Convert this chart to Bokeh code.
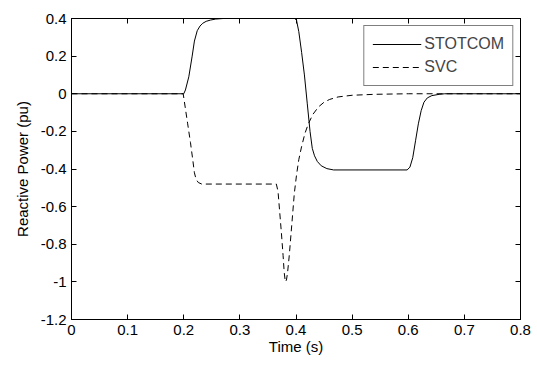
from bokeh.plotting import figure
from bokeh.models import LinearAxis, FixedTicker, Range1d, Legend, LegendItem
from bokeh.embed import file_html
from bokeh.resources import INLINE

# STATCOM reactive power (pu) vs time (s)
t_statcom = [0, 0.2, 0.203, 0.209, 0.215, 0.219, 0.224, 0.229, 0.234, 0.24, 0.248, 0.257, 0.27,
             0.398, 0.401, 0.405, 0.41, 0.415, 0.42, 0.425, 0.429, 0.433, 0.438, 0.445, 0.455, 0.467,
             0.598, 0.603, 0.608, 0.613, 0.618, 0.623, 0.628, 0.634, 0.642, 0.655, 0.665, 0.8]
q_statcom = [0, 0, 0.02, 0.09, 0.2, 0.28, 0.335, 0.36, 0.375, 0.385, 0.392, 0.397, 0.4,
             0.4, 0.39, 0.33, 0.22, 0.1, -0.05, -0.2, -0.29, -0.33, -0.36, -0.383, -0.398, -0.405,
             -0.405, -0.39, -0.34, -0.25, -0.16, -0.09, -0.045, -0.022, -0.01, -0.003, 0, 0]

# SVC reactive power (pu) vs time (s)
t_svc = [0, 0.199, 0.203, 0.207, 0.212, 0.216, 0.219, 0.222, 0.226, 0.232,
         0.365, 0.368, 0.371, 0.374, 0.377, 0.379, 0.381, 0.383, 0.385, 0.388, 0.391, 0.394,
         0.397, 0.401, 0.405, 0.41, 0.416, 0.422, 0.43, 0.44, 0.45, 0.46, 0.475, 0.5, 0.54, 0.6, 0.8]
q_svc = [0, 0, -0.08, -0.16, -0.26, -0.35, -0.42, -0.455, -0.472, -0.48,
         -0.48, -0.52, -0.63, -0.74, -0.86, -0.95, -1.0, -0.99, -0.95, -0.86, -0.75, -0.64,
         -0.53, -0.43, -0.35, -0.28, -0.21, -0.16, -0.11, -0.07, -0.045, -0.03, -0.017, -0.008, -0.003, 0, 0]

x_ticks = [0, 0.1, 0.2, 0.3, 0.4, 0.5, 0.6, 0.7, 0.8]
x_tick_labels = ["0", "0.1", "0.2", "0.3", "0.4", "0.5", "0.6", "0.7", "0.8"]
y_ticks = [-1.2, -1.0, -0.8, -0.6, -0.4, -0.2, 0, 0.2, 0.4]
y_tick_labels = ["-1.2", "-1", "-0.8", "-0.6", "-0.4", "-0.2", "0", "0.2", "0.4"]

FONT = "Liberation Sans"

p = figure(width=537, height=367, output_backend="svg", toolbar_location=None,
           x_range=Range1d(0, 0.8), y_range=Range1d(-1.2, 0.4),
           min_border_left=71, min_border_right=17, min_border_top=18, min_border_bottom=48)
p.xgrid.visible = False
p.ygrid.visible = False
p.outline_line_color = "black"
p.outline_line_width = 1
p.background_fill_color = "white"
p.border_fill_color = "white"

def style_axis(ax, ticks, labels, show_labels):
    ax.ticker = FixedTicker(ticks=ticks)
    ax.major_label_overrides = {t: l for t, l in zip(ticks, labels)}
    ax.major_tick_in = 5
    ax.major_tick_out = 0
    ax.minor_tick_in = 0
    ax.minor_tick_out = 0
    ax.axis_line_color = "black"
    ax.major_tick_line_color = "black"
    ax.major_label_text_font = FONT
    ax.major_label_text_font_size = "15px"
    ax.major_label_text_color = "black"
    ax.major_label_standoff = 5
    if not show_labels:
        ax.major_label_text_font_size = "0px"
        ax.major_label_text_alpha = 0

style_axis(p.xaxis[0], x_ticks, x_tick_labels, True)
style_axis(p.yaxis[0], y_ticks, y_tick_labels, True)
p.xaxis[0].axis_label = "Time (s)"
p.yaxis[0].axis_label = "Reactive Power (pu)"
for ax in (p.xaxis[0], p.yaxis[0]):
    ax.axis_label_text_font = FONT
    ax.axis_label_text_font_size = "15px"
    ax.axis_label_text_font_style = "normal"
    ax.axis_label_text_color = "black"
p.xaxis[0].axis_label_standoff = 0
p.yaxis[0].axis_label_standoff = 7

top = LinearAxis()
right = LinearAxis()
style_axis(top, x_ticks, x_tick_labels, False)
style_axis(right, y_ticks, y_tick_labels, False)
p.add_layout(top, "above")
p.add_layout(right, "right")

r1 = p.line(t_statcom, q_statcom, line_color="black", line_width=1)
r2 = p.line(t_svc, q_svc, line_color="black", line_width=1, line_dash="6 4")

legend = Legend(items=[LegendItem(label="STOTCOM", renderers=[r1]),
                       LegendItem(label="SVC", renderers=[r2])],
                location="top_right")
legend.margin = 7
legend.padding = 8
legend.spacing = 3
legend.glyph_width = 49
legend.glyph_height = 20
legend.label_standoff = 3
legend.label_text_font = FONT
legend.label_text_font_size = "16px"
legend.border_line_color = "black"
legend.border_line_width = 1
legend.background_fill_alpha = 1
p.add_layout(legend, "center")

open("out.html", "w").write(file_html(p, INLINE))
